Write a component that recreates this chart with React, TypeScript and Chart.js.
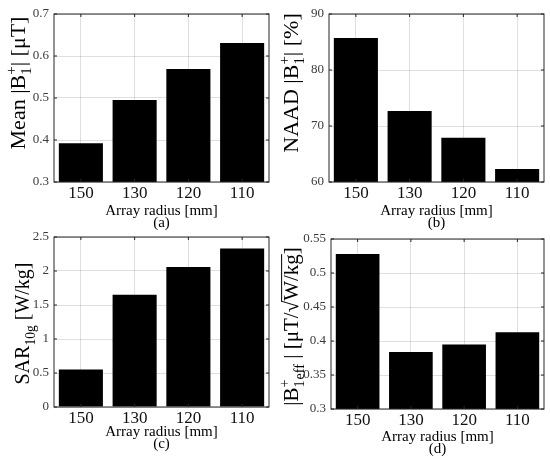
import React, { useEffect, useRef } from "react";
import { Chart, registerables } from "chart.js";

Chart.register(...registerables);

// ---- data ----
const categories = ["150", "130", "120", "110"];
const meanB1 = [0.392, 0.495, 0.569, 0.631];
const naadB1 = [85.7, 72.7, 67.9, 62.3];
const sar10g = [0.55, 1.65, 2.06, 2.33];
const b1eff = [0.528, 0.384, 0.395, 0.413];

const ticksA = [0.3, 0.4, 0.5, 0.6, 0.7];
const ticksB = [60, 70, 80, 90];
const ticksC = [0, 0.5, 1, 1.5, 2, 2.5];
const ticksD = [0.3, 0.35, 0.4, 0.45, 0.5, 0.55];

const xAxisTitle = "Array radius [mm]";
const captions = ["(a)", "(b)", "(c)", "(d)"];

type Seg = { text?: string; sub?: string; sup?: string; over?: boolean };
const titleA: Seg[] = [{ text: "Mean |B" }, { sub: "1", sup: "+" }, { text: "| [μT]" }];
const titleB: Seg[] = [{ text: "NAAD |B" }, { sub: "1", sup: "+" }, { text: "| [%]" }];
const titleC: Seg[] = [{ text: "SAR" }, { sub: "10g" }, { text: " [W/kg]" }];
const titleD: Seg[] = [
  { text: "|B" },
  { sub: "1", sup: "+" },
  { sub: "eff" },
  { text: " | [μT/√" },
  { text: "W/kg", over: true },
  { text: "]" },
];

const FAMILY = "'Liberation Serif', 'DejaVu Serif', serif";
const AXIS_COLOR = "#262626";
const GRID_COLOR = "rgba(38,38,38,0.15)";

type Panel = {
  left: number;
  top: number;
  values: number[];
  ticks: number[];
  title: Seg[];
  caption: string;
  yW: number;
  xH: number;
  padT: number;
  padR: number;
  titleX: number;
  titleCY: number;
  titleFs: number;
  xTitleDy: number;
  capDy: number;
};

const panels: Panel[] = [
  { left: 0, top: 0, values: meanB1, ticks: ticksA, title: titleA, caption: captions[0], yW: 54, xH: 48, padT: 14, padR: 6, titleX: 25, titleCY: 83, titleFs: 22, xTitleDy: 33, capDy: 45 },
  { left: 275, top: 0, values: naadB1, ticks: ticksB, title: titleB, caption: captions[1], yW: 54, xH: 48, padT: 14, padR: 6, titleX: 23, titleCY: 83, titleFs: 22, xTitleDy: 33, capDy: 45 },
  { left: 0, top: 230, values: sar10g, ticks: ticksC, title: titleC, caption: captions[2], yW: 54, xH: 53, padT: 7, padR: 6, titleX: 29, titleCY: 93.5, titleFs: 20, xTitleDy: 28.5, capDy: 40.5 },
  { left: 275, top: 230, values: b1eff, ticks: ticksD, title: titleD, caption: captions[3], yW: 56, xH: 51, padT: 9, padR: 6, titleX: 23, titleCY: 96.5, titleFs: 21, xTitleDy: 32, capDy: 43.5 },
];

function drawRich(ctx: CanvasRenderingContext2D, segs: Seg[], x: number, cy: number, fs: number) {
  const subFs = fs * 0.68;
  const f = (s: number) => `${s}px ${FAMILY}`;
  const widths = segs.map((s) => {
    if (s.text) {
      ctx.font = f(fs);
      return ctx.measureText(s.text).width;
    }
    ctx.font = f(subFs);
    return Math.max(s.sub ? ctx.measureText(s.sub).width : 0, s.sup ? ctx.measureText(s.sup).width : 0);
  });
  const total = widths.reduce((a, b) => a + b, 0);
  ctx.save();
  ctx.translate(x, cy);
  ctx.rotate(-Math.PI / 2);
  ctx.textAlign = "left";
  ctx.textBaseline = "alphabetic";
  ctx.fillStyle = "#000";
  ctx.strokeStyle = "#000";
  ctx.lineWidth = 1;
  let px = -total / 2;
  segs.forEach((s, i) => {
    if (s.text) {
      ctx.font = f(fs);
      ctx.fillText(s.text, px, 0);
      if (s.over) {
        ctx.beginPath();
        ctx.moveTo(px - 1, -fs * 0.78);
        ctx.lineTo(px + widths[i], -fs * 0.78);
        ctx.stroke();
      }
    } else {
      ctx.font = f(subFs);
      if (s.sub) ctx.fillText(s.sub, px, fs * 0.28);
      if (s.sup) ctx.fillText(s.sup, px, -fs * 0.42);
    }
    px += widths[i];
  });
  ctx.restore();
}

function makeDecor(p: Panel) {
  return {
    id: "decor",
    afterDraw(chart: any) {
      const ctx: CanvasRenderingContext2D = chart.ctx;
      const { left, right, top, bottom } = chart.chartArea;
      const xs = chart.scales.x;
      const ys = chart.scales.y;
      ctx.save();
      ctx.strokeStyle = AXIS_COLOR;
      ctx.lineWidth = 1;
      const tl = 3;
      ctx.beginPath();
      ys.ticks.forEach((t: any) => {
        const y = ys.getPixelForValue(t.value);
        ctx.moveTo(left, y);
        ctx.lineTo(left + tl, y);
        ctx.moveTo(right, y);
        ctx.lineTo(right - tl, y);
      });
      categories.forEach((_, i) => {
        const x = xs.getPixelForValue(i);
        ctx.moveTo(x, bottom);
        ctx.lineTo(x, bottom - tl);
        ctx.moveTo(x, top);
        ctx.lineTo(x, top + tl);
      });
      ctx.stroke();
      ctx.strokeRect(left, top, right - left, bottom - top);
      ctx.fillStyle = "#000";
      ctx.textAlign = "center";
      ctx.textBaseline = "alphabetic";
      ctx.font = `15px ${FAMILY}`;
      const cx = (left + right) / 2;
      ctx.fillText(xAxisTitle, cx, bottom + p.xTitleDy);
      ctx.fillText(p.caption, cx, bottom + p.capDy);
      ctx.restore();
      drawRich(ctx, p.title, p.titleX, p.titleCY, p.titleFs);
    },
  };
}

function PanelChart({ p }: { p: Panel }) {
  const ref = useRef<HTMLCanvasElement>(null);
  useEffect(() => {
    if (!ref.current) return;
    const chart = new Chart(ref.current, {
      type: "bar",
      data: {
        labels: categories,
        datasets: [
          {
            data: p.values,
            backgroundColor: "#000",
            borderWidth: 0,
            categoryPercentage: 1,
            barPercentage: 0.82,
          },
        ],
      },
      options: {
        responsive: false,
        animation: false,
        devicePixelRatio: 1,
        layout: { padding: { left: 0, right: p.padR, top: p.padT, bottom: 0 } },
        plugins: { legend: { display: false }, tooltip: { enabled: false }, title: { display: false } },
        scales: {
          x: {
            type: "category",
            offset: true,
            grid: { offset: false, color: GRID_COLOR, drawTicks: false },
            border: { display: false },
            ticks: { color: "#111", font: { family: FAMILY, size: 17 }, padding: 1, maxRotation: 0 },
            afterFit: (s: any) => {
              s.height = p.xH;
              s.paddingLeft = 0;
              s.paddingRight = 0;
            },
          },
          y: {
            type: "linear",
            min: p.ticks[0],
            max: p.ticks[p.ticks.length - 1],
            grid: { color: GRID_COLOR, drawTicks: false },
            border: { display: false },
            afterBuildTicks: (s: any) => {
              s.ticks = p.ticks.map((v) => ({ value: v }));
            },
            ticks: {
              color: "#3a3a3a",
              font: { family: FAMILY, size: 13 },
              padding: 5,
              callback: (v: any) => String(v),
            },
            afterFit: (s: any) => {
              s.width = p.yW;
              s.paddingTop = 0;
              s.paddingBottom = 0;
            },
          },
        },
      },
      plugins: [makeDecor(p)],
    } as any);
    return () => chart.destroy();
  }, [p]);
  return (
    <canvas
      ref={ref}
      width={275}
      height={230}
      style={{ position: "absolute", left: p.left, top: p.top, width: 275, height: 230 }}
    />
  );
}

export default function App() {
  return (
    <div style={{ position: "absolute", left: 0, top: 0, width: 550, height: 460, background: "#fff" }}>
      {panels.map((p, i) => (
        <PanelChart key={i} p={p} />
      ))}
    </div>
  );
}
